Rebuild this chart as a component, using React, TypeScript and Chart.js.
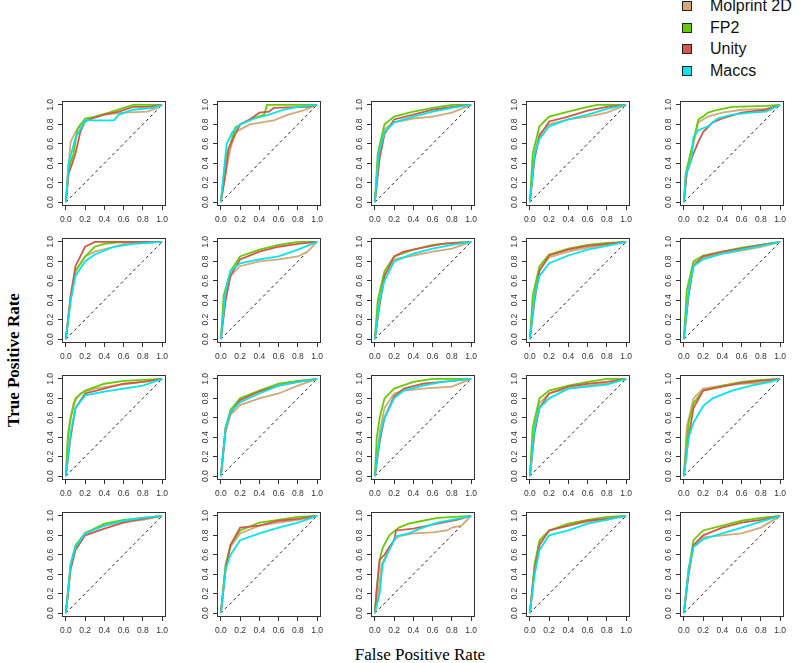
import React, { useEffect, useRef } from "react";
import { Chart, registerables } from "chart.js";
Chart.register(...registerables);

const seriesNames = ["Molprint 2D", "FP2", "Unity", "Maccs"];
const seriesColors = ["#D4A878", "#66CC00", "#D2584A", "#00E5EE"];
const tickValues = [0, 0.2, 0.4, 0.6, 0.8, 1.0];
const diagonal = [[0, 0], [1, 1]];

const molprint: number[][][] = [
  [[0,0],[0.02,0.3],[0.05,0.62],[0.1,0.72],[0.15,0.8],[0.25,0.86],[0.4,0.9],[0.6,0.92],[0.85,0.93],[0.95,0.97],[1,1]],
  [[0,0],[0.05,0.3],[0.1,0.55],[0.15,0.72],[0.3,0.8],[0.55,0.84],[0.7,0.9],[0.85,0.94],[1,1]],
  [[0,0],[0.05,0.55],[0.1,0.75],[0.2,0.82],[0.4,0.86],[0.6,0.88],[0.8,0.92],[1,1]],
  [[0,0],[0.05,0.5],[0.1,0.7],[0.2,0.8],[0.4,0.85],[0.6,0.88],[0.8,0.92],[1,1]],
  [[0,0],[0.03,0.3],[0.1,0.6],[0.15,0.82],[0.25,0.88],[0.4,0.92],[0.6,0.95],[0.85,0.96],[1,1]],
  [[0,0],[0.05,0.45],[0.1,0.7],[0.2,0.85],[0.3,0.9],[0.5,0.95],[0.6,0.98],[1,1]],
  [[0,0],[0.05,0.45],[0.1,0.65],[0.2,0.75],[0.4,0.8],[0.6,0.82],[0.8,0.85],[0.9,0.9],[1,1]],
  [[0,0],[0.05,0.45],[0.1,0.65],[0.2,0.82],[0.4,0.86],[0.6,0.9],[0.8,0.93],[1,1]],
  [[0,0],[0.05,0.5],[0.1,0.72],[0.2,0.84],[0.4,0.9],[0.6,0.94],[0.8,0.97],[1,1]],
  [[0,0],[0.05,0.5],[0.1,0.78],[0.2,0.84],[0.4,0.88],[0.6,0.91],[0.8,0.95],[1,1]],
  [[0,0],[0.03,0.5],[0.08,0.75],[0.15,0.85],[0.3,0.9],[0.5,0.93],[0.8,0.97],[1,1]],
  [[0,0],[0.05,0.45],[0.1,0.63],[0.2,0.73],[0.4,0.8],[0.6,0.85],[0.8,0.93],[1,1]],
  [[0,0],[0.05,0.45],[0.1,0.7],[0.2,0.85],[0.3,0.88],[0.5,0.9],[0.8,0.92],[1,1]],
  [[0,0],[0.05,0.5],[0.1,0.75],[0.2,0.85],[0.4,0.9],[0.6,0.93],[0.8,0.95],[1,1]],
  [[0,0],[0.03,0.5],[0.1,0.8],[0.2,0.9],[0.4,0.93],[0.6,0.95],[0.8,0.96],[1,1]],
  [[0,0],[0.05,0.5],[0.1,0.68],[0.2,0.83],[0.4,0.9],[0.6,0.94],[0.8,0.96],[1,1]],
  [[0,0],[0.05,0.5],[0.1,0.68],[0.2,0.82],[0.4,0.9],[0.6,0.93],[0.8,0.96],[1,1]],
  [[0,0],[0.03,0.15],[0.07,0.5],[0.12,0.6],[0.2,0.75],[0.25,0.79],[0.4,0.82],[0.6,0.83],[0.75,0.85],[0.8,0.88],[0.9,0.9],[0.95,0.95],[1,1]],
  [[0,0],[0.05,0.5],[0.1,0.72],[0.2,0.85],[0.4,0.9],[0.6,0.94],[0.8,0.97],[1,1]],
  [[0,0],[0.05,0.45],[0.1,0.68],[0.2,0.78],[0.4,0.8],[0.6,0.82],[0.8,0.88],[1,1]],
];

const fp2: number[][][] = [
  [[0,0],[0.03,0.35],[0.08,0.5],[0.12,0.75],[0.2,0.86],[0.3,0.88],[0.45,0.92],[0.6,0.97],[0.7,1],[1,1]],
  [[0,0],[0.05,0.45],[0.1,0.6],[0.15,0.77],[0.3,0.85],[0.45,0.9],[0.48,1],[1,1]],
  [[0,0],[0.03,0.5],[0.1,0.8],[0.2,0.88],[0.4,0.93],[0.6,0.97],[0.8,1],[1,1]],
  [[0,0],[0.03,0.5],[0.1,0.78],[0.2,0.88],[0.4,0.93],[0.6,0.98],[0.7,1],[1,1]],
  [[0,0],[0.02,0.3],[0.08,0.55],[0.15,0.85],[0.2,0.88],[0.25,0.92],[0.35,0.95],[0.5,0.98],[0.85,0.99],[1,1]],
  [[0,0],[0.05,0.4],[0.1,0.7],[0.2,0.85],[0.3,0.95],[0.4,0.98],[0.6,1],[1,1]],
  [[0,0],[0.03,0.45],[0.1,0.7],[0.2,0.85],[0.4,0.92],[0.6,0.97],[0.8,1],[1,1]],
  [[0,0],[0.03,0.4],[0.1,0.7],[0.2,0.85],[0.4,0.92],[0.6,0.97],[0.8,0.99],[1,1]],
  [[0,0],[0.03,0.45],[0.1,0.75],[0.2,0.87],[0.4,0.93],[0.6,0.97],[0.8,0.99],[1,1]],
  [[0,0],[0.03,0.5],[0.1,0.8],[0.2,0.86],[0.4,0.9],[0.6,0.94],[0.8,0.97],[1,1]],
  [[0,0],[0.02,0.4],[0.05,0.6],[0.1,0.8],[0.2,0.88],[0.4,0.95],[0.6,0.98],[1,1]],
  [[0,0],[0.05,0.5],[0.1,0.68],[0.2,0.8],[0.4,0.88],[0.6,0.95],[0.8,0.98],[1,1]],
  [[0,0],[0.02,0.4],[0.05,0.6],[0.1,0.8],[0.2,0.9],[0.4,0.97],[0.6,1],[1,1]],
  [[0,0],[0.03,0.5],[0.1,0.8],[0.2,0.88],[0.4,0.93],[0.6,0.97],[0.8,1],[1,1]],
  [[0,0],[0.05,0.55],[0.1,0.75],[0.2,0.88],[0.4,0.93],[0.6,0.97],[0.8,0.99],[1,1]],
  [[0,0],[0.05,0.5],[0.1,0.7],[0.2,0.82],[0.4,0.92],[0.6,0.96],[0.8,0.98],[1,1]],
  [[0,0],[0.05,0.5],[0.1,0.7],[0.2,0.85],[0.4,0.93],[0.6,0.96],[0.8,0.99],[1,1]],
  [[0,0],[0.02,0.25],[0.05,0.55],[0.08,0.67],[0.15,0.8],[0.25,0.88],[0.35,0.92],[0.5,0.95],[0.65,0.98],[1,1]],
  [[0,0],[0.05,0.5],[0.1,0.75],[0.2,0.85],[0.4,0.92],[0.6,0.96],[0.8,0.99],[1,1]],
  [[0,0],[0.05,0.45],[0.1,0.75],[0.2,0.85],[0.4,0.9],[0.6,0.95],[0.8,0.98],[1,1]],
];

const unity: number[][][] = [
  [[0,0],[0.03,0.3],[0.06,0.38],[0.1,0.5],[0.15,0.72],[0.2,0.83],[0.3,0.87],[0.4,0.9],[0.55,0.93],[0.7,0.98],[0.85,0.98],[1,1]],
  [[0,0],[0.05,0.3],[0.08,0.55],[0.15,0.7],[0.2,0.8],[0.3,0.85],[0.4,0.92],[0.5,0.93],[0.55,0.97],[0.9,0.98],[1,1]],
  [[0,0],[0.05,0.45],[0.1,0.7],[0.2,0.85],[0.4,0.9],[0.6,0.95],[0.8,0.98],[1,1]],
  [[0,0],[0.05,0.45],[0.1,0.68],[0.2,0.83],[0.4,0.88],[0.6,0.94],[0.8,0.98],[1,1]],
  [[0,0],[0.03,0.3],[0.1,0.5],[0.15,0.62],[0.2,0.72],[0.3,0.82],[0.4,0.86],[0.6,0.92],[0.85,0.95],[1,1]],
  [[0,0],[0.05,0.45],[0.1,0.75],[0.15,0.85],[0.2,0.95],[0.3,1],[1,1]],
  [[0,0],[0.05,0.4],[0.1,0.65],[0.2,0.82],[0.4,0.9],[0.6,0.95],[0.8,0.98],[1,1]],
  [[0,0],[0.05,0.35],[0.1,0.65],[0.2,0.85],[0.3,0.9],[0.5,0.94],[0.7,0.98],[1,1]],
  [[0,0],[0.05,0.4],[0.1,0.7],[0.2,0.86],[0.4,0.92],[0.6,0.96],[0.8,0.98],[1,1]],
  [[0,0],[0.05,0.45],[0.1,0.75],[0.2,0.85],[0.4,0.9],[0.6,0.93],[0.8,0.97],[1,1]],
  [[0,0],[0.05,0.4],[0.1,0.7],[0.2,0.85],[0.4,0.9],[0.6,0.95],[0.8,0.97],[1,1]],
  [[0,0],[0.05,0.5],[0.1,0.65],[0.2,0.78],[0.4,0.87],[0.6,0.93],[0.8,0.97],[1,1]],
  [[0,0],[0.05,0.35],[0.1,0.6],[0.2,0.82],[0.3,0.9],[0.5,0.95],[0.7,0.97],[1,1]],
  [[0,0],[0.05,0.45],[0.1,0.7],[0.2,0.85],[0.4,0.92],[0.6,0.95],[0.8,0.97],[1,1]],
  [[0,0],[0.05,0.4],[0.1,0.7],[0.2,0.88],[0.4,0.92],[0.6,0.96],[0.8,0.98],[1,1]],
  [[0,0],[0.05,0.45],[0.1,0.65],[0.2,0.8],[0.4,0.87],[0.6,0.93],[0.8,0.97],[1,1]],
  [[0,0],[0.05,0.45],[0.1,0.7],[0.2,0.88],[0.4,0.9],[0.6,0.95],[0.8,0.97],[1,1]],
  [[0,0],[0.02,0.25],[0.05,0.55],[0.1,0.6],[0.15,0.68],[0.2,0.75],[0.22,0.85],[0.4,0.87],[0.55,0.9],[0.7,0.93],[0.85,0.96],[1,1]],
  [[0,0],[0.05,0.45],[0.1,0.7],[0.2,0.85],[0.4,0.9],[0.6,0.95],[0.8,0.97],[1,1]],
  [[0,0],[0.05,0.4],[0.1,0.7],[0.2,0.8],[0.4,0.88],[0.6,0.93],[0.8,0.96],[1,1]],
];

const maccs: number[][][] = [
  [[0,0],[0.03,0.4],[0.1,0.66],[0.15,0.75],[0.2,0.84],[0.5,0.84],[0.55,0.9],[0.7,0.95],[0.9,0.97],[1,1]],
  [[0,0],[0.02,0.2],[0.06,0.6],[0.12,0.72],[0.2,0.8],[0.35,0.86],[0.5,0.9],[0.65,0.95],[0.8,0.98],[1,1]],
  [[0,0],[0.04,0.5],[0.1,0.72],[0.2,0.82],[0.4,0.88],[0.6,0.93],[0.8,0.97],[1,1]],
  [[0,0],[0.05,0.5],[0.1,0.65],[0.2,0.78],[0.4,0.85],[0.6,0.9],[0.8,0.96],[1,1]],
  [[0,0],[0.02,0.28],[0.08,0.45],[0.1,0.67],[0.15,0.74],[0.25,0.78],[0.35,0.86],[0.5,0.9],[0.7,0.92],[0.85,0.93],[1,1]],
  [[0,0],[0.05,0.4],[0.1,0.65],[0.2,0.8],[0.3,0.87],[0.5,0.95],[0.7,0.98],[1,1]],
  [[0,0],[0.05,0.5],[0.1,0.7],[0.2,0.78],[0.4,0.82],[0.6,0.85],[0.8,0.92],[1,1]],
  [[0,0],[0.05,0.4],[0.1,0.6],[0.2,0.8],[0.4,0.88],[0.6,0.93],[0.8,0.97],[1,1]],
  [[0,0],[0.05,0.45],[0.1,0.65],[0.2,0.78],[0.4,0.86],[0.6,0.92],[0.8,0.96],[1,1]],
  [[0,0],[0.05,0.5],[0.1,0.75],[0.2,0.82],[0.4,0.88],[0.6,0.92],[0.8,0.96],[1,1]],
  [[0,0],[0.05,0.45],[0.1,0.7],[0.2,0.83],[0.4,0.87],[0.6,0.9],[0.8,0.93],[1,1]],
  [[0,0],[0.05,0.5],[0.1,0.66],[0.2,0.76],[0.4,0.85],[0.6,0.93],[0.8,0.97],[1,1]],
  [[0,0],[0.05,0.4],[0.1,0.6],[0.2,0.8],[0.3,0.88],[0.5,0.93],[0.7,0.97],[1,1]],
  [[0,0],[0.05,0.5],[0.1,0.7],[0.2,0.8],[0.4,0.9],[0.6,0.92],[0.8,0.94],[1,1]],
  [[0,0],[0.05,0.4],[0.1,0.55],[0.2,0.72],[0.3,0.8],[0.5,0.88],[0.7,0.93],[0.9,0.97],[1,1]],
  [[0,0],[0.05,0.5],[0.1,0.68],[0.2,0.82],[0.4,0.9],[0.6,0.95],[0.8,0.98],[1,1]],
  [[0,0],[0.05,0.45],[0.1,0.6],[0.2,0.75],[0.4,0.82],[0.6,0.88],[0.8,0.93],[1,1]],
  [[0,0],[0.05,0.2],[0.08,0.5],[0.15,0.65],[0.22,0.79],[0.35,0.82],[0.5,0.88],[0.65,0.93],[0.85,0.97],[1,1]],
  [[0,0],[0.05,0.4],[0.1,0.65],[0.2,0.8],[0.4,0.85],[0.6,0.92],[0.8,0.96],[1,1]],
  [[0,0],[0.05,0.45],[0.1,0.68],[0.2,0.76],[0.4,0.82],[0.6,0.88],[0.8,0.94],[1,1]],
];

const allSeries = [molprint, fp2, unity, maccs];

// layout constants
const NCOL = 5;
const NROW = 4;
const BOX_LEFT0 = 62;
const COL_STEP = 154.5;
const BOX_TOP0 = 101;
const ROW_STEP = 137;
const BOX_W = 104;
const BOX_H = 105;
const M_LEFT = 34;
const M_TOP = 4;
const M_RIGHT = 4;
const M_BOTTOM = 28;

const boxPlugin = {
  id: "rbox",
  afterDatasetsDraw(chart: any) {
    const { ctx, chartArea: a } = chart;
    ctx.save();
    ctx.strokeStyle = "#333";
    ctx.lineWidth = 1;
    ctx.strokeRect(Math.round(a.left) + 0.5, Math.round(a.top) + 0.5, Math.round(a.right - a.left) - 1, Math.round(a.bottom - a.top) - 1);
    ctx.restore();
  },
};

const tickFont = { family: "'Liberation Sans', Arial, sans-serif", size: 8.5 };

function makeConfig(p: number): any {
  const datasets: any[] = [
    {
      data: diagonal.map(([x, y]) => ({ x, y })),
      borderColor: "#222",
      borderWidth: 1,
      borderDash: [3, 3],
      pointRadius: 0,
      showLine: true,
      order: 10,
    },
  ];
  allSeries.forEach((s, k) => {
    datasets.push({
      label: seriesNames[k],
      data: s[p].map(([x, y]) => ({ x, y })),
      borderColor: seriesColors[k],
      backgroundColor: seriesColors[k],
      borderWidth: 1.8,
      pointRadius: 0,
      showLine: true,
      tension: 0,
      order: 4 - k,
    });
  });
  return {
    type: "scatter",
    data: { datasets },
    plugins: [boxPlugin],
    options: {
      responsive: false,
      animation: false,
      events: [],
      layout: { padding: { top: M_TOP, right: M_RIGHT, left: 0, bottom: 0 } },
      plugins: { legend: { display: false }, tooltip: { enabled: false } },
      scales: {
        x: {
          type: "linear",
          min: -0.04,
          max: 1.04,
          afterBuildTicks: (s: any) => {
            s.ticks = tickValues.map((v) => ({ value: v }));
          },
          afterFit: (s: any) => {
            s.height = M_BOTTOM;
            s.paddingLeft = 0;
            s.paddingRight = 0;
          },
          grid: { drawOnChartArea: false, drawTicks: true, tickLength: 4, color: "#333", lineWidth: 1 },
          border: { display: false },
          ticks: {
            autoSkip: false,
            maxRotation: 0,
            minRotation: 0,
            padding: 5,
            color: "#333",
            font: tickFont,
            callback: (v: any) => Number(v).toFixed(1),
          },
        },
        y: {
          type: "linear",
          min: -0.04,
          max: 1.04,
          afterBuildTicks: (s: any) => {
            s.ticks = tickValues.map((v) => ({ value: v }));
          },
          afterFit: (s: any) => {
            s.width = M_LEFT;
            s.paddingTop = 0;
            s.paddingBottom = 0;
          },
          grid: { drawOnChartArea: false, drawTicks: true, tickLength: 4, color: "#333", lineWidth: 1 },
          border: { display: false },
          ticks: {
            autoSkip: false,
            minRotation: 90,
            maxRotation: 90,
            crossAlign: "center",
            padding: 1.5,
            color: "#333",
            font: tickFont,
            callback: (v: any) => Number(v).toFixed(1),
          },
        },
      },
    },
  };
}

export default function App() {
  const refs = useRef<(HTMLCanvasElement | null)[]>([]);
  const n = NCOL * NROW;

  useEffect(() => {
    const charts: Chart[] = [];
    for (let i = 0; i < n; i++) {
      const c = refs.current[i];
      if (c) charts.push(new Chart(c, makeConfig(i)));
    }
    return () => charts.forEach((ch) => ch.destroy());
  }, []);

  const cw = BOX_W + M_LEFT + M_RIGHT;
  const chH = BOX_H + M_TOP + M_BOTTOM;

  const canvases = [];
  for (let i = 0; i < n; i++) {
    const r = Math.floor(i / NCOL);
    const c = i % NCOL;
    const left = Math.round(BOX_LEFT0 + c * COL_STEP - M_LEFT);
    const top = Math.round(BOX_TOP0 + r * ROW_STEP - M_TOP);
    canvases.push(
      <canvas
        key={i}
        ref={(el) => {
          refs.current[i] = el;
        }}
        width={cw}
        height={chH}
        style={{ position: "absolute", left, top, width: cw, height: chH }}
      />
    );
  }

  return (
    <div style={{ position: "absolute", left: 0, top: 0, width: 800, height: 663, background: "#fff", overflow: "hidden" }}>
      {canvases}
      {seriesNames.map((name, k) => (
        <div key={name} style={{ position: "absolute", left: 682, top: 0 + k * 21.7, height: 12, display: "flex", alignItems: "center" }}>
          <div style={{ width: 10, height: 10, background: seriesColors[k], border: "1px solid #222", boxSizing: "border-box" }} />
          <div style={{ position: "absolute", left: 28, top: -3, whiteSpace: "nowrap", font: "16px 'Liberation Sans', Arial, sans-serif", color: "#111", lineHeight: "18px" }}>{name}</div>
        </div>
      ))}
      <div
        style={{
          position: "absolute",
          left: 14,
          top: 360,
          transform: "translate(-50%, -50%) rotate(-90deg)",
          whiteSpace: "nowrap",
          font: "bold 17px 'Liberation Serif', 'Times New Roman', serif",
          color: "#000",
        }}
      >
        True Positive Rate
      </div>
      <div
        style={{
          position: "absolute",
          left: 420,
          top: 655,
          transform: "translate(-50%, -50%)",
          whiteSpace: "nowrap",
          font: "17px 'Liberation Serif', 'Times New Roman', serif",
          color: "#000",
        }}
      >
        False Positive Rate
      </div>
    </div>
  );
}
